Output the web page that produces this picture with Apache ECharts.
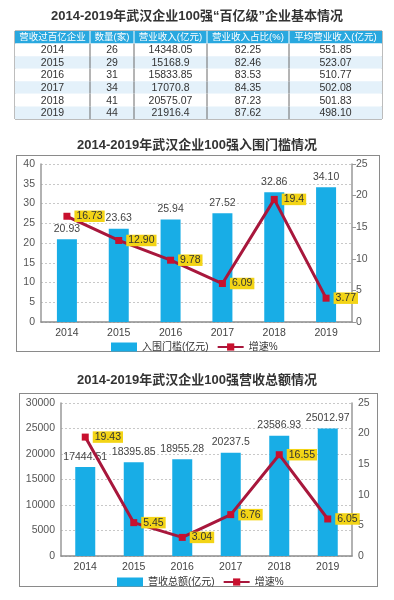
<!DOCTYPE html>
<html>
<head>
<meta charset="utf-8">
<script src="https://cdn.jsdelivr.net/npm/echarts@6/dist/echarts.min.js"></script>
<style>
  html, body { margin: 0; padding: 0; background: #fff; }
  #wrap { position: relative; width: 394px; height: 600px; }
  .box { position: absolute; border: 1.5px solid #8a8a8a; box-sizing: border-box; }
  #chart { position: absolute; left: 0; top: 0; width: 394px; height: 600px; }
</style>
</head>
<body>
<div id="wrap">
  <div class="box" style="left:16px;top:155px;width:364px;height:197px;"></div>
  <div class="box" style="left:19px;top:393px;width:359px;height:194px;"></div>
  <div id="chart"></div>
</div>
<script>
// ---------- data ----------
const years = ['2014', '2015', '2016', '2017', '2018', '2019'];

// table
const tableHeader = ['营收过百亿企业', '数量(家)', '营业收入(亿元)', '营业收入占比(%)', '平均营业收入(亿元)'];
const companyCount = ['26', '29', '31', '34', '41', '44'];
const revenue = ['14348.05', '15168.9', '15833.85', '17070.8', '20575.07', '21916.4'];
const revenueShare = ['82.25', '82.46', '83.53', '84.35', '87.23', '87.62'];
const avgRevenue = ['551.85', '523.07', '510.77', '502.08', '501.83', '498.10'];

// chart 2: entry threshold
const thresholdValues = ['20.93', '23.63', '25.94', '27.52', '32.86', '34.10'];
const thresholdGrowth = ['16.73', '12.90', '9.78', '6.09', '19.4', '3.77'];

// chart 3: total revenue
const totalRevenue = ['17444.51', '18395.85', '18955.28', '20237.5', '23586.93', '25012.97'];
const totalGrowth = ['19.43', '5.45', '3.04', '6.76', '16.55', '6.05'];

// tick settings
const thresholdAxis = { min: 0, max: 40, interval: 5 };
const revenueAxis = { min: 0, max: 30000, interval: 5000 };
const growthAxis = { min: 0, max: 25, interval: 5 };

// ---------- layout / style ----------
const colEdges = [0, 75, 119, 192, 274, 367]; // relative column boundaries (px units of table axis)
const FONT = "'Liberation Sans', 'Noto Sans CJK SC', sans-serif";
const BAR_COLOR = '#18ade6';
const LINE_COLOR = '#a8173c';
const MARK_COLOR = '#c8102e';
const LABEL_BG = '#f3d416';

// build table cells from the arrays
const tableRows = [tableHeader].concat(years.map((y, i) => [y, companyCount[i], revenue[i], revenueShare[i], avgRevenue[i]]));
const cells = [];
tableRows.forEach((row, r) => row.forEach((t, c) => cells.push({ value: [c, r], text: t })));

function renderCell(params, api) {
  const c = api.value(0), r = api.value(1);
  const p0 = api.coord([colEdges[c], r]);
  const p1 = api.coord([colEdges[c + 1], r + 1]);
  const x = p0[0], y = p0[1], w = p1[0] - p0[0], h = p1[1] - p0[1];
  const isHead = r === 0;
  const fill = isHead ? '#29a8df' : (r % 2 === 0 ? '#e4f1fa' : '#ffffff');
  const children = [
    { type: 'rect', shape: { x: x, y: y, width: w, height: h }, style: { fill: fill } },
    { type: 'text', style: {
        text: cells[params.dataIndex].text, x: x + w / 2, y: y + h / 2 + 0.5,
        align: 'center', verticalAlign: 'middle',
        fill: isHead ? '#ffffff' : '#333333',
        fontSize: isHead ? 9.5 : 10.5, fontFamily: FONT } }
  ];
  if (c > 0) {
    children.push({ type: 'line', shape: { x1: x, y1: y, x2: x, y2: y + h },
      style: { stroke: isHead ? '#ffffff' : '#6a6a6a', lineWidth: 1 } });
  }
  return { type: 'group', children: children };
}

const fmt = arr => p => arr[p.dataIndex];

function barSeries(name, xi, yi, arr) {
  return {
    name: name, type: 'bar', xAxisIndex: xi, yAxisIndex: yi,
    data: arr.map(Number), barWidth: 20,
    itemStyle: { color: BAR_COLOR },
    label: { show: true, position: 'top', distance: 5, formatter: fmt(arr),
      color: '#444', fontSize: 10.5, fontFamily: FONT }
  };
}
function lineSeries(xi, yi, arr) {
  return {
    name: '增速%', type: 'line', xAxisIndex: xi, yAxisIndex: yi,
    data: arr.map(Number), symbol: 'rect', symbolSize: 7,
    itemStyle: { color: MARK_COLOR },
    lineStyle: { color: LINE_COLOR, width: 3 },
    label: { show: true, position: 'right', distance: 4, formatter: fmt(arr),
      color: '#333', fontSize: 10.5, fontFamily: FONT,
      backgroundColor: LABEL_BG, padding: [1, 2, 0, 2] },
    z: 5
  };
}
function catAxis(gi) {
  return {
    type: 'category', gridIndex: gi, data: years,
    axisLine: { lineStyle: { color: '#8c8c8c', width: 1.5 } },
    axisTick: { show: false },
    axisLabel: { color: '#444', fontSize: 10.5, fontFamily: FONT, margin: 6 }
  };
}
function valAxis(gi, ax, pos, split, ticks) {
  return {
    type: 'value', gridIndex: gi, position: pos, min: ax.min, max: ax.max, interval: ax.interval,
    axisLine: { show: true, lineStyle: { color: '#999', width: 1.5 } },
    axisTick: { show: ticks, length: 4, lineStyle: { color: '#999' } },
    axisLabel: { color: '#555', fontSize: 10.5, fontFamily: FONT, margin: ticks ? 4 : 6,
      formatter: v => String(v) },
    splitLine: { show: split, lineStyle: { color: '#c8c8c8', type: [2, 2] } }
  };
}

const chart = echarts.init(document.getElementById('chart'), null, { renderer: 'canvas' });
chart.setOption({
  animation: false,
  textStyle: { fontFamily: FONT },
  title: [
    { text: '2014-2019年武汉企业100强“百亿级”企业基本情况', left: 'center', top: 5,
      textStyle: { fontSize: 13, fontWeight: 'bold', color: '#333', fontFamily: FONT } },
    { text: '2014-2019年武汉企业100强入围门槛情况', left: 'center', top: 134,
      textStyle: { fontSize: 13, fontWeight: 'bold', color: '#333', fontFamily: FONT } },
    { text: '2014-2019年武汉企业100强营收总额情况', left: 'center', top: 369,
      textStyle: { fontSize: 13, fontWeight: 'bold', color: '#333', fontFamily: FONT } }
  ],
  grid: [
    { left: 15, top: 31, width: 367, height: 88, show: true, borderColor: '#7a7a7a', borderWidth: 1, backgroundColor: 'transparent' },
    { left: 41, right: 42, top: 164, height: 158 },
    { left: 61, right: 42, top: 403, height: 153 }
  ],
  xAxis: [
    { type: 'value', gridIndex: 0, min: 0, max: colEdges[colEdges.length - 1], show: false },
    catAxis(1),
    catAxis(2)
  ],
  yAxis: [
    { type: 'value', gridIndex: 0, min: 0, max: tableRows.length, inverse: true, show: false },
    valAxis(1, thresholdAxis, 'left', true, false),
    valAxis(1, growthAxis, 'right', false, true),
    valAxis(2, revenueAxis, 'left', true, false),
    valAxis(2, growthAxis, 'right', false, false)
  ],
  legend: [
    { data: [{ name: '入围门槛(亿元)', icon: 'rect' }, '增速%'], left: 106, top: 337,
      itemWidth: 26, itemHeight: 9, itemGap: 8, selectedMode: false,
      textStyle: { fontSize: 10, color: '#333', fontFamily: FONT } },
    { data: [{ name: '营收总额(亿元)', icon: 'rect' }, '增速%'], left: 112, top: 572,
      itemWidth: 26, itemHeight: 9, itemGap: 8, selectedMode: false,
      textStyle: { fontSize: 10, color: '#333', fontFamily: FONT } }
  ],
  series: [
    { type: 'custom', xAxisIndex: 0, yAxisIndex: 0, data: cells, renderItem: renderCell, clip: false, silent: true },
    barSeries('入围门槛(亿元)', 1, 1, thresholdValues),
    lineSeries(1, 2, thresholdGrowth),
    barSeries('营收总额(亿元)', 2, 3, totalRevenue),
    lineSeries(2, 4, totalGrowth)
  ]
});
</script>
</body>
</html>
